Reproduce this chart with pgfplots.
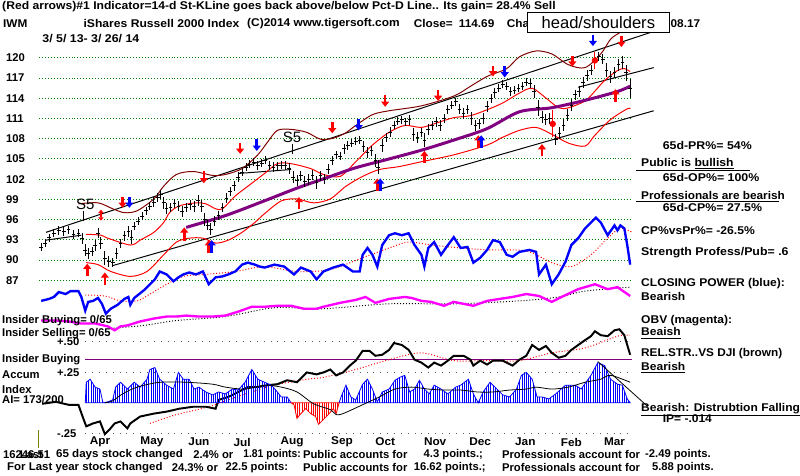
\documentclass[border=0pt]{standalone}
\usepackage{fontspec}
\setmainfont{Liberation Sans}
\usepackage{graphicx}
\usepackage{pgfplots}
\pgfplotsset{compat=1.18}
\usetikzlibrary{arrows.meta,patterns.meta}
\definecolor{tgreen}{RGB}{0,128,0}
\definecolor{tbrown}{RGB}{128,0,0}
\definecolor{tpurple}{RGB}{128,0,128}
\definecolor{tblue}{RGB}{0,0,255}
\definecolor{tmag}{RGB}{255,0,255}
\definecolor{tolive}{RGB}{128,128,0}
\definecolor{tgray}{RGB}{90,90,90}

% every panel covers the whole 800x485 px picture, 1px = 0.75pt
\pgfplotsset{panel/.style={at={(0pt,-363.75pt)}, anchor=south west,
  width=600pt, height=363.75pt, scale only axis, hide axis,
  xmin=0, xmax=800, clip=false}}

\newcommand\tx[1]{{\fontsize{8.6pt}{10pt}\selectfont\bfseries #1}}
\newcommand\tw[2]{\scalebox{#1}[1]{\tx{#2}}}
\tikzset{lab/.style={anchor=west, inner sep=0pt}}

\begin{document}
\begin{tikzpicture}
\begin{scope}[x=0.75pt,y=-0.75pt]
\useasboundingbox (0,0) rectangle (800,485);
\fill[white] (0,0) rectangle (800,485);
% price grid and labels
\foreach \p in {87,90,...,120}{
  \pgfmathsetmacro\yy{59+(120-\p)*6.879}
  \draw[tgreen, line width=0.75pt, dash pattern=on 0.75pt off 1.5pt] (40,\yy) -- (645,\yy);
  \node[lab] at (6,\yy) {\tx{\p}};
}
% accumulation grid
\foreach \yy in {348,380,442}{
  \draw[tgray, line width=0.75pt, dash pattern=on 0.75pt off 4.5pt] (87,\yy) -- (645,\yy);
}
\draw[tpurple, line width=0.75pt] (87,367) -- (645,367);
\draw[tolive, line width=0.75pt] (39,439) -- (39,457);
\end{scope}

% ---------------- price panel (y in price units)
\begin{axis}[panel, ymin=58.07, ymax=128.58]
% trend channel
\addplot[black, line width=0.75pt] coordinates {(47,94.12) (667,123.92)};
\addplot[black, line width=0.75pt] coordinates {(115,89.18) (667,112.15)};
\addplot[black, line width=0.75pt] coordinates {(590,115.64) (667,118.55)};
\addplot[black, line width=0.75pt] coordinates {(47,92.96) (83,93.69)};
\addplot[black, line width=0.75pt] coordinates {(243,102.85) (297,103.43)};
% bands
\addplot[tbrown, line width=0.75pt, smooth] coordinates {
 (80,98.34) (100,98.49) (115,97.61) (127,97.03) (140,97.32) (157,99.07)
 (167,100.96) (180,102.70) (197,103.14) (217,102.56) (230,102.70) (247,103.57)
 (263,105.61) (273,107.50) (283,109.24) (297,109.39) (313,108.95) (327,107.93)
 (340,108.08) (352,108.81) (363,109.97) (380,111.57) (397,112.15) (430,112.88)
 (463,114.33) (480,115.78) (497,117.24) (517,118.40) (530,120.15) (547,121.02)
 (563,120.58) (580,118.98) (597,118.55) (613,120.58) (623,122.76) (633,123.78)
 (643,124.51)};
\addplot[red, line width=0.75pt, smooth] coordinates {
 (88,93.83) (103,93.69) (110,93.25) (133,92.23) (143,92.96) (157,94.12)
 (167,95.58) (173,97.03) (183,98.05) (200,98.49) (210,98.34) (220,97.61)
 (227,97.61) (240,99.50) (253,100.96) (270,102.85) (283,104.30) (297,104.30)
 (317,103.57) (330,102.70) (347,102.41) (363,104.59) (380,107.06) (397,108.95)
 (413,109.97) (430,109.68) (447,110.41) (463,111.13) (480,111.42) (497,112.30)
 (513,113.31) (530,114.77) (543,115.49) (557,114.04) (570,112.59) (580,112.59)
 (597,113.60) (607,115.06) (617,116.66) (630,118.11) (637,118.40) (643,117.96)};
\addplot[red, line width=0.75pt, smooth] coordinates {
 (88,89.62) (100,89.33) (113,88.31) (133,87.58) (150,88.31) (167,90.78)
 (180,92.67) (193,93.25) (207,93.25) (220,92.52) (233,92.96) (247,94.12)
 (260,95.58) (270,96.89) (287,98.78) (303,99.07) (320,98.49) (337,99.07)
 (353,100.96) (370,102.41) (387,103.43) (407,103.86) (430,104.59) (463,105.61)
 (497,107.06) (513,108.22) (530,109.24) (547,109.68) (563,108.66) (580,107.35)
 (597,106.91) (607,108.52) (623,110.84) (640,112.44) (643,112.44)};
% 65-day moving average
\addplot[tpurple, line width=2.3pt, smooth] coordinates {
 (190,94.85) (230,96.6) (270,98.8) (303,100.67) (337,102.4) (363,103.7)
 (397,105.0) (430,106.3) (463,107.8) (497,109.5) (530,112.0) (563,112.6)
 (597,113.7) (630,115.0) (643,115.8)};
% daily bars (mid of range +- half range)
\addplot[black, line width=0.7pt, only marks, mark=-, mark size=1.4pt,
  error bars/.cd, y dir=both, y explicit, error mark=none,
  error bar style={line width=0.7pt, black}] coordinates {
 (42,91.9) +- (0,0.6) (46,92.5) +- (0,0.6) (50,93.3) +- (0,0.6) (55,94.0) +- (0,0.6)
 (60,94.4) +- (0,0.7) (65,94.2) +- (0,0.7) (70,94.5) +- (0,0.6) (75,93.8) +- (0,0.7)
 (80,94.0) +- (0,0.6) (84,93.2) +- (0,0.8) (87,91.5) +- (0,0.9) (90,91.0) +- (0,0.8)
 (94,91.3) +- (0,0.7) (97,92.2) +- (0,0.8) (100,94.0) +- (0,0.7) (103,92.5) +- (0,0.9)
 (107,90.3) +- (0,1.0) (111,89.8) +- (0,0.8) (115,89.6) +- (0,0.7) (119,91.0) +- (0,0.8)
 (123,92.5) +- (0,0.7) (127,93.6) +- (0,0.7) (131,94.2) +- (0,0.8) (134,93.4) +- (0,1.0)
 (137,95.0) +- (0,0.6) (141,95.8) +- (0,0.6) (145,96.5) +- (0,0.6) (149,97.3) +- (0,0.6)
 (153,98.0) +- (0,0.6) (157,98.6) +- (0,0.7) (161,99.3) +- (0,0.7) (164,99.7) +- (0,0.7)
 (167,98.5) +- (0,0.9) (170,97.6) +- (0,0.8) (174,97.8) +- (0,0.7) (178,98.4) +- (0,0.7)
 (182,98.0) +- (0,0.7) (186,97.2) +- (0,0.8) (190,97.8) +- (0,0.7) (194,98.2) +- (0,0.7)
 (198,98.0) +- (0,0.8) (202,98.8) +- (0,0.8) (206,98.0) +- (0,0.9) (209,96.0) +- (0,1.0)
 (212,95.2) +- (0,0.8) (215,94.6) +- (0,0.9) (219,95.8) +- (0,0.8) (223,96.6) +- (0,0.7)
 (227,97.8) +- (0,0.7) (231,99.2) +- (0,0.7) (235,100.2) +- (0,0.7) (239,101.0) +- (0,0.7)
 (243,102.3) +- (0,0.7) (247,103.0) +- (0,0.6) (251,103.8) +- (0,0.6) (255,104.2) +- (0,0.6)
 (259,104.5) +- (0,0.6) (263,104.0) +- (0,0.7) (267,104.4) +- (0,0.6) (271,104.8) +- (0,0.6)
 (275,104.0) +- (0,0.7) (279,103.8) +- (0,0.7) (283,104.0) +- (0,0.6) (287,104.1) +- (0,0.6)
 (291,104.0) +- (0,0.7) (295,103.6) +- (0,0.8) (299,102.3) +- (0,0.9) (303,101.8) +- (0,0.8)
 (307,102.5) +- (0,0.7) (311,101.7) +- (0,0.8) (315,102.0) +- (0,0.8) (319,102.6) +- (0,0.7)
 (323,101.5) +- (0,0.9) (327,102.5) +- (0,0.7) (331,102.0) +- (0,0.7) (335,103.5) +- (0,0.8)
 (339,104.8) +- (0,0.7) (343,105.6) +- (0,0.6) (347,105.4) +- (0,0.6) (351,106.5) +- (0,0.7)
 (355,107.0) +- (0,0.7) (359,107.3) +- (0,0.6) (363,107.6) +- (0,0.6) (367,107.8) +- (0,0.6)
 (371,106.8) +- (0,0.8) (375,106.0) +- (0,0.8) (379,106.2) +- (0,0.7) (383,104.8) +- (0,1.0)
 (386,103.8) +- (0,1.1) (390,107.0) +- (0,1.0) (394,108.2) +- (0,0.7) (398,109.0) +- (0,0.7)
 (402,110.0) +- (0,0.6) (406,110.6) +- (0,0.6) (410,110.8) +- (0,0.6) (414,110.5) +- (0,0.6)
 (418,110.8) +- (0,0.7) (422,108.6) +- (0,1.0) (426,108.2) +- (0,0.8) (430,108.9) +- (0,0.7)
 (433,107.8) +- (0,1.0) (437,109.4) +- (0,0.8) (441,110.0) +- (0,0.7) (445,110.5) +- (0,0.7)
 (449,110.0) +- (0,0.8) (453,111.0) +- (0,0.7) (457,112.3) +- (0,0.7) (461,113.0) +- (0,0.6)
 (465,113.5) +- (0,0.6) (469,112.4) +- (0,0.8) (473,111.8) +- (0,0.8) (477,112.3) +- (0,0.7)
 (481,111.0) +- (0,0.9) (485,110.0) +- (0,0.8) (489,110.2) +- (0,0.7) (493,111.0) +- (0,0.8)
 (497,112.8) +- (0,0.8) (501,114.0) +- (0,0.7) (505,114.8) +- (0,0.7) (509,115.5) +- (0,0.6)
 (513,116.1) +- (0,0.6) (517,115.8) +- (0,0.6) (521,115.0) +- (0,0.7) (525,115.2) +- (0,0.6)
 (529,115.5) +- (0,0.6) (533,115.8) +- (0,0.6) (537,116.4) +- (0,0.6) (541,116.2) +- (0,0.7)
 (545,115.0) +- (0,0.9) (549,112.6) +- (0,1.2) (553,111.2) +- (0,0.9) (557,110.8) +- (0,0.8)
 (561,111.0) +- (0,0.8) (567,107.9) +- (0,0.8) (571,108.8) +- (0,0.9) (575,110.0) +- (0,0.9)
 (579,111.5) +- (0,0.9) (583,113.0) +- (0,0.9) (587,114.5) +- (0,0.8) (591,115.0) +- (0,0.8)
 (595,116.3) +- (0,0.8) (599,117.4) +- (0,0.8) (603,118.2) +- (0,0.8) (611,120.2) +- (0,0.6)
 (615,119.8) +- (0,0.7) (619,118.2) +- (0,1.0) (623,117.2) +- (0,0.9) (627,117.8) +- (0,0.8)
 (631,119.0) +- (0,0.9) (635,119.3) +- (0,0.9) (639,117.8) +- (0,1.2) (643,115.5) +- (0,1.4)};
\addplot[red, line width=0.8pt, only marks, mark=none,
  error bars/.cd, y dir=both, y explicit, error mark=none,
  error bar style={line width=0.8pt, red}] coordinates {
 (564,110.2) +- (0,2.0) (607,119.6) +- (0,1.2)};
\end{axis}

% ---------------- indicator panel (y in pixel rows, top = 0)
\begin{axis}[panel, ymin=0, ymax=485, y dir=reverse]
% closing power
\addplot[red, line width=0.75pt, dash pattern=on 0.75pt off 1.5pt, smooth] coordinates {
 (87,301) (107,302) (123,307) (140,307) (153,300) (170,290) (187,282) (210,280)
 (240,277) (270,272) (303,277) (337,275) (370,263) (400,252) (417,247) (440,250)
 (470,253) (500,255) (537,256) (563,268) (583,272) (603,260) (620,243) (633,233) (645,237)};
\addplot[tblue, line width=1.8pt] coordinates {
 (42,307) (50,305) (55,303) (60,298) (67,300) (72,297) (80,297) (83,303) (87,317)
 (90,308) (95,307) (100,304) (104,310) (108,320) (113,315) (120,311) (127,305)
 (131,303) (133,311) (137,304) (142,300) (147,296) (153,290) (158,285) (163,277)
 (170,280) (177,287) (182,283) (187,280) (193,278) (200,280) (207,277) (213,290)
 (220,283) (227,282) (233,280) (240,277) (247,270) (253,268) (260,270) (265,272)
 (270,273) (280,270) (290,272) (300,280) (307,273) (317,277) (323,285) (330,277)
 (340,273) (350,270) (360,277) (367,277) (370,260) (375,253) (380,260) (385,272)
 (390,250) (397,240) (403,238) (410,240) (417,238) (423,250) (430,260) (433,272)
 (437,253) (443,247) (450,260) (457,250) (463,242) (470,253) (477,252) (483,268)
 (490,263) (497,255) (503,245) (510,247) (517,260) (523,262) (530,257) (540,255)
 (547,257) (550,280) (557,270) (563,290) (570,280) (577,267) (583,250) (590,243)
 (597,233) (603,227) (608,222) (613,227) (620,240) (627,230) (630,235) (633,230)
 (637,233) (640,250) (643,270)};
% on balance volume
\addplot[black, line width=0.75pt, dash pattern=on 0.75pt off 1.5pt, smooth] coordinates {
 (113,335) (147,332) (180,327) (230,323) (280,314) (330,315) (397,310) (463,310)
 (530,307) (570,303) (597,297) (643,293)};
\addplot[tmag, line width=1.8pt] coordinates {
 (42,327) (57,327) (70,328) (82,330) (97,330) (110,333) (117,337) (123,333)
 (130,332) (143,328) (157,325) (170,323) (180,323) (190,322) (203,323) (217,323)
 (230,322) (243,318) (257,313) (270,313) (283,312) (297,312) (310,315) (323,315)
 (330,313) (347,309) (363,306) (373,303) (383,309) (397,305) (413,303) (420,304)
 (430,307) (440,308) (453,312) (463,308) (483,312) (497,307) (510,305) (523,303)
 (537,300) (550,302) (563,308) (573,303) (590,295) (607,290) (620,295) (630,293) (643,302)};
% relative strength vs DJI
\addplot[red, line width=0.75pt, dash pattern=on 0.75pt off 1.5pt, smooth] coordinates {
 (153,432) (180,423) (213,415) (247,403) (280,393) (313,387) (330,385) (363,377)
 (397,367) (430,360) (463,368) (497,368) (530,368) (563,360) (597,355) (630,343) (643,342)};
\addplot[black, line width=1.5pt] coordinates {
 (43,412) (57,410) (70,413) (80,413) (85,427) (88,435) (95,432) (102,430) (107,443)
 (112,438) (117,432) (123,430) (130,437) (133,432) (143,425) (157,422) (170,420)
 (183,417) (197,415) (210,415) (220,417) (223,408) (233,405) (243,400) (253,395)
 (263,395) (273,393) (283,392) (293,388) (303,390) (313,380) (323,382) (330,380)
 (337,377) (343,383) (350,380) (357,373) (363,368) (370,358) (377,358) (383,363)
 (390,362) (397,357) (402,350) (410,352) (417,357) (423,367) (430,370) (437,375)
 (443,370) (450,373) (457,368) (463,363) (473,363) (480,367) (483,373) (490,368)
 (497,372) (503,368) (513,368) (523,373) (530,367) (537,363) (543,352) (550,357)
 (557,353) (563,360) (570,365) (577,363) (583,357) (590,352) (597,347) (603,343)
 (607,338) (613,342) (620,343) (627,337) (632,336) (637,342) (643,362)};
% signal arrows: x, tail row, length
\addplot[red, line width=2pt, -{Triangle[width=6pt,length=4pt]},
  quiver={u=0, v=\thisrow{v}}] table[x=x, y=y] {
x y v
89 282 -13
107 291 -13
188 246 -14
213 258 -13
305 213 -12
385 195 -13
433 166 -12
488 151 -13
553 159 -12
628 104 -13
125 201 11
208 174 13
245 146 11
339 124 12
393 97 12
447 92 11
503 67 11
584 57 11
634 37 11
};
\addplot[tblue, line width=2pt, -{Triangle[width=6pt,length=4pt]},
  quiver={u=0, v=\thisrow{v}}] table[x=x, y=y] {
x y v
216 258 -13
388 195 -13
491 151 -13
132 201 11
262 142 12
366 121 12
515 67 12
605 36 11
};
\addplot[red, line width=1.2pt, {Triangle[width=4pt,length=2.5pt]}-{Triangle[width=4pt,length=2.5pt]}]
  coordinates {(103,214) (103,225)};
\end{axis}

% ---------------- accumulation index (y in AI units, 0 = baseline)
\begin{axis}[panel, ymin=-0.597, ymax=3.315]
\addplot[tblue, line width=0.6pt, pattern={Lines[angle=90,distance=1.7pt,line width=0.75pt]},
  pattern color=tblue] coordinates {
 (87,0) (88,0.169) (92,0.194) (97,0.129) (102,0.113) (105,0) (110,0.008) (115,0.024)
 (118,0.129) (123,0.169) (130,0.113) (137,0.169) (143,0.129) (150,0.194) (153,0.274)
 (158,0.290) (163,0.194) (170,0.145) (177,0.113) (182,0.250) (187,0.194) (193,0.194)
 (198,0.113) (203,0.129) (210,0.089) (217,0.065) (223,0.089) (230,0.073) (237,0.113)
 (243,0.105) (250,0.169) (257,0.274) (263,0.194) (270,0.169) (277,0.145) (283,0.089)
 (287,0.048) (293,0.048) (297,0)} \closedcycle;
\addplot[tblue, line width=0.6pt, pattern={Lines[angle=90,distance=1.7pt,line width=0.75pt]},
  pattern color=tblue] coordinates {
 (346,0) (348,0.048) (353,0.145) (358,0.048) (363,0.024) (370,0.153) (375,0.194)
 (380,0.113) (385,0.008) (390,0.089) (397,0.113) (403,0.185) (408,0.210) (413,0.226)
 (418,0.089) (423,0.113) (428,0.185) (433,0.113) (438,0.073) (443,0.145) (450,0.113)
 (457,0.073) (465,0.129) (470,0.145) (478,0.194) (483,0.073) (488,0) (493,0.089)
 (500,0.169) (507,0.113) (513,0.065) (520,0.048) (527,0.113) (532,0.226) (537,0.250)
 (543,0.194) (548,0.048) (553,0.048) (560,0.032) (567,0.073) (577,0.145) (587,0.145)
 (593,0.113) (603,0.226) (610,0.331) (617,0.306) (623,0.194) (630,0.153) (635,0.145)
 (640,0.032) (643,0)} \closedcycle;
\addplot[red, line width=0.6pt, pattern={Lines[angle=90,distance=1.7pt,line width=0.75pt]},
  pattern color=red] coordinates {
 (297,0) (300,-0.016) (303,-0.129) (307,-0.089) (312,-0.048) (317,-0.089) (322,-0.113)
 (325,-0.177) (330,-0.137) (335,-0.097) (340,-0.048) (343,-0.089) (346,0)} \closedcycle;
\addplot[black, line width=0.6pt, smooth] coordinates {
 (107,0) (115,0.016) (125,0.073) (140,0.129) (163,0.169) (190,0.169) (217,0.153)
 (230,0.129) (250,0.113) (270,0.145) (287,0.129) (303,0.089) (320,-0.008) (337,-0.056)
 (343,-0.097) (350,-0.089) (370,-0.016) (387,0.048) (403,0.113) (420,0.129) (437,0.113)
 (453,0.105) (470,0.105) (487,0.089) (503,0.089) (520,0.105) (537,0.113) (547,0.129)
 (563,0.113) (580,0.129) (597,0.169) (613,0.194) (623,0.226) (643,0.169)};
\addplot[black, line width=0.6pt] coordinates {(610,0.339) (660,-0.024)};
\end{axis}

% ---------------- texts
\begin{scope}[x=0.75pt,y=-0.75pt]
\node[lab] at (2,7) {\tw{1.08}{(Red arrows)\#1 Indicator=14-d St-KLine goes back above/below Pct-D Line.. Its gain= 28.4\% Sell}};
\node[lab] at (3,24) {\tw{1.05}{IWM}};
\node[lab] at (85,24) {\tw{1.08}{iShares Russell 2000 Index}};
\node[lab] at (252,24) {\tw{1.06}{(C)2014 www.tigersoft.com}};
\node[lab] at (422,24) {\tw{1.05}{Close=}};
\node[lab] at (468,24) {\tw{1.05}{114.69}};
\node[lab] at (517,24) {\tw{1.05}{Cha}};
\node[lab] at (684,24) {\tw{1.05}{08.17}};
\node[lab] at (43,39) {\tw{1.1}{3/ 5/ 13- 3/ 26/ 14}};
\draw[black, fill=white, line width=0.75pt] (538,13) rectangle (683,33);
\node[inner sep=0pt] at (610.5,23) {\fontsize{12.7pt}{14pt}\selectfont head/shoulders};
\node[inner sep=0pt] at (87,208) {\fontsize{11.5pt}{13pt}\selectfont S5};
\draw[black, line width=0.6pt] (85,215) -- (85,226);
\node[inner sep=0pt] at (298,140) {\fontsize{11.5pt}{13pt}\selectfont S5};
\draw[black, line width=0.6pt] (298,147) -- (298,157);
% right column
\node[lab] at (676,148) {\tw{1.1}{65d-PR\%= 54\%}};
\node[lab] at (654,167) {\tw{1.08}{Public is \underline{bullish}}};
\draw[black, line width=0.75pt] (649,174) -- (765,174);
\node[lab] at (676,181) {\tw{1.1}{65d-OP\%= 100\%}};
\node[lab] at (654,199) {\tw{1.05}{Professionals are bearish}};
\draw[black, line width=0.75pt] (649,206) -- (795,206);
\node[lab] at (676,212) {\tw{1.1}{65d-CP\%= 27.5\%}};
\node[lab] at (654,235) {\tw{1.08}{CP\%vsPr\%= -26.5\%}};
\node[lab] at (654,258) {\tw{1.1}{Strength Profess/Pub= .6}};
\node[lab] at (654,289) {\tw{1.07}{CLOSING POWER (blue):}};
\node[lab] at (654,303) {\tw{1.07}{Bearish}};
\node[lab] at (654,327) {\tw{1.07}{OBV (magenta):}};
\node[lab] at (654,340) {\tw{1.07}{\underline{Beaish}}};
\node[lab] at (654,361) {\tw{1.05}{REL.STR..VS DJI (brown)}};
\node[lab] at (654,375) {\tw{1.07}{\underline{Bearish}}};
\node[lab] at (654,418) {\tw{1.07}{\underline{Bearish: Distrubtion Falling}}};
\node[lab] at (676,427) {\tw{1.07}{IP= -.014}};
% left column
\node[lab] at (2,327) {\tx{Insider Buying= 0/65}};
\node[lab] at (2,340) {\tx{Insider Selling= 0/65}};
\node[lab] at (58,349) {\tx{+.50}};
\node[lab] at (2,367) {\tx{Insider Buying}};
\node[lab] at (2,382) {\tx{Accum}};
\node[lab] at (58,380) {\tx{+.25}};
\node[lab] at (2,397) {\tx{Index}};
\node[lab] at (2,408) {\tx{AI= 173/200}};
\node[lab] at (58,442) {\tx{-.25}};
% months
\foreach \m/\xx in {Apr/102,May/155,Jun/203,Jul/247,Aug/298,Sep/349,Oct/393,Nov/444,Dec/490,Jan/536,Feb/583,Mar/627}{
  \node[inner sep=0pt] at (\xx,451) {\tw{1.05}{\m}};
}
% bottom lines
\node[lab] at (3,464) {\tx{16246.51}};
\node[lab] at (20,464) {\tx{Last}};
\node[lab] at (57,464) {\tw{1.03}{65 days stock changed}};
\node[lab] at (197,464) {\tx{2.4\% or}};
\node[lab] at (248,464) {\tw{0.92}{1.81 points:}};
\node[lab] at (309,464) {\tx{Public accounts for}};
\node[lab] at (432,464) {\tx{4.3 points.;}};
\node[lab] at (512,464) {\tx{Professionals account for}};
\node[lab] at (658,464) {\tx{-2.49 points.}};
\node[lab] at (7,477) {\tw{1.02}{For Last year stock changed}};
\node[lab] at (175,477) {\tx{24.3\% or}};
\node[lab] at (230,477) {\tx{22.5 points:}};
\node[lab] at (309,477) {\tx{Public accounts for}};
\node[lab] at (422,477) {\tx{16.62 points.;}};
\node[lab] at (512,477) {\tx{Professionals account for}};
\node[lab] at (665,477) {\tx{5.88 points.}};
\end{scope}
\end{tikzpicture}
\end{document}
